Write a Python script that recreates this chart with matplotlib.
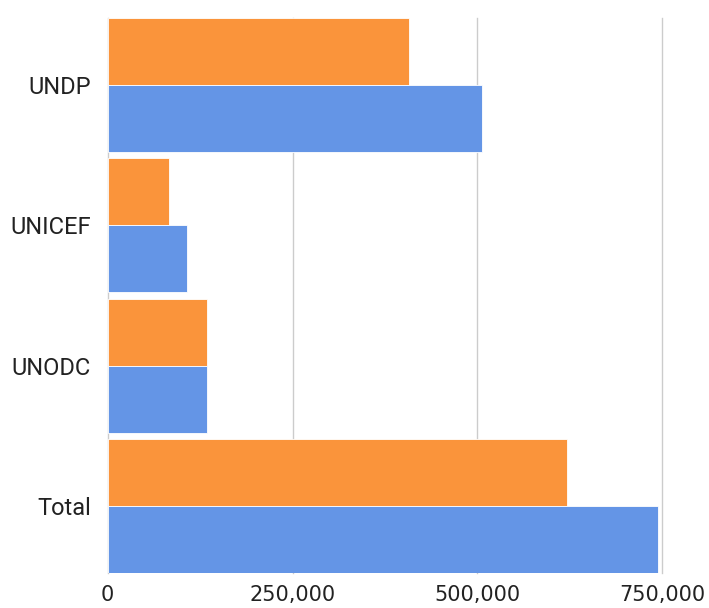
import matplotlib.pyplot as plt
from matplotlib.ticker import FuncFormatter

categories = ["UNDP", "UNICEF", "UNODC", "Total"]
orange_vals = [407000, 83000, 134000, 621000]
blue_vals = [506000, 107000, 134000, 744000]
xticks = [0, 250000, 500000, 750000]

plt.rcParams['font.family'] = ['Roboto', 'DejaVu Sans']

fig = plt.figure(figsize=(7.09, 6.08), dpi=100)
ax = fig.add_axes([0.1519, 0.0576, 0.7822, 0.9128])

ypos = list(range(len(categories)))
h = 0.477
ax.barh([y - h / 2 for y in ypos], orange_vals, height=h, color="#FA943B",
        edgecolor="white", linewidth=0.6, zorder=3)
ax.barh([y + h / 2 for y in ypos], blue_vals, height=h, color="#6495E6",
        edgecolor="white", linewidth=0.6, zorder=3)

ax.set_ylim(3.475, -0.477)
ax.set_xlim(0, 750000)
ax.set_yticks(ypos)
ax.set_yticklabels(categories, fontsize=17)
ax.set_xticks(xticks)
ax.xaxis.set_major_formatter(FuncFormatter(lambda v, p: f"{int(v):,}"))
for lbl in ax.get_xticklabels():
    lbl.set_fontfamily("DejaVu Sans")
    lbl.set_fontsize(15)
ax.tick_params(length=0, colors="#222222")
ax.tick_params(axis="y", pad=12)
ax.tick_params(axis="x", pad=9)
ax.grid(axis="x", color="#cccccc", linewidth=1, zorder=0)
for gl in ax.get_xgridlines():
    gl.set_clip_on(False)
for s in ax.spines.values():
    s.set_visible(False)

fig.savefig("out.png", dpi=100)
